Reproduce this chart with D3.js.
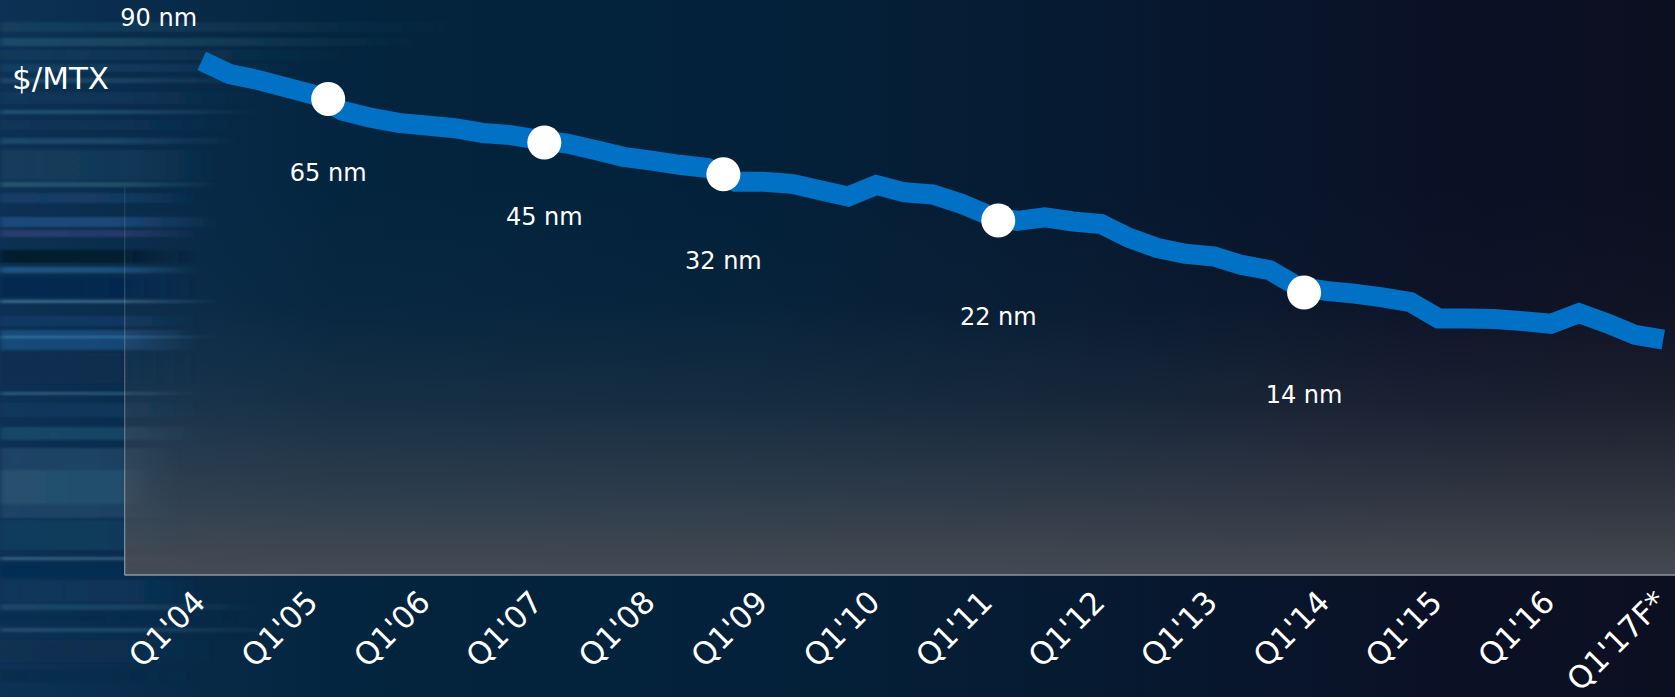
<!DOCTYPE html>
<html>
<head>
<meta charset="utf-8">
<script src="https://cdn.jsdelivr.net/npm/d3@7"></script>
<style>
  html, body { margin: 0; padding: 0; background: #061a2e; overflow: hidden; }
  svg { display: block; }
</style>
</head>
<body>
<svg id="chart" width="1675" height="697"></svg>
<script>
// Relative cost per million transistors, one value per quarter, Q1'04 .. Q1'17 (forecast)
const costPerMtx = [
  97.0, 94.5, 93.4, 92.0, 90.6, 87.6, 86.3, 85.3, 84.8, 84.3,
  83.4, 83.0, 82.1, 81.4, 80.2, 78.9, 78.2, 77.4, 76.8, 74.2,
  74.2, 73.8, 72.6, 71.4, 73.6, 72.2, 71.8, 70.1, 67.9, 66.8,
  67.5, 66.7, 66.2, 63.6, 61.7, 60.6, 60.1, 58.5, 57.5, 54.4,
  53.6, 53.1, 52.4, 51.5, 48.4, 48.4, 48.3, 47.9, 47.4, 49.4,
  47.5, 45.3, 44.4
];

// Year ticks (every fourth quarter)
const tickQuarters = [0, 4, 8, 12, 16, 20, 24, 28, 32, 36, 40, 44, 48, 52];
const tickLabels = ["Q1'04", "Q1'05", "Q1'06", "Q1'07", "Q1'08", "Q1'09", "Q1'10",
                    "Q1'11", "Q1'12", "Q1'13", "Q1'14", "Q1'15", "Q1'16", "Q1'17F*"];

// Process node introductions: name, quarter (from Q1'04) and cost level
const nodeNames   = ["90 nm", "65 nm", "45 nm", "32 nm", "22 nm", "14 nm"];
const nodeQuarter = [0, 4.5, 12.19, 18.56, 28.34, 39.22];
const nodeValue   = [97.0, 89.8, 81.6, 75.6, 66.9, 53.3];
const nodeHasDot  = [false, true, true, true, true, true];

const axisTitle = "$/MTX";

// ---- layout ----
const W = 1675, H = 697;
const plotLeft = 124.5, plotTop = 187, plotBottom = 575;
const labelBaseline = [25.5, 181, 225, 269, 325, 403];
const labelShift    = [-43, 0, 0, 0, 0, 0];
const blue = "#0071c5";
const font = "'DejaVu Sans', sans-serif";

const svg = d3.select("#chart");
const defs = svg.append("defs");

const x = d3.scaleLinear().domain([0, 52]).range([201.7, 1663.3]);
const y = d3.scaleLinear().domain([0, 100]).range([plotBottom, 45]);

// ---- background ----
const bg = defs.append("linearGradient").attr("id", "bg")
  .attr("x1", 0).attr("y1", 0).attr("x2", 1).attr("y2", 0);
[[0, "#0c3154"], [0.08, "#092c4b"], [0.2, "#04253f"], [0.45, "#03213a"], [0.65, "#061a31"], [0.85, "#0a1126"], [1, "#0c0f20"]]
  .forEach(([o, c]) => bg.append("stop").attr("offset", o).attr("stop-color", c));
svg.append("rect").attr("width", W).attr("height", H).attr("fill", "url(#bg)");

// motion streaks on the left edge: [y, height, colour, length, strength]
const streaks = [
  [22, 10, "#1f5068", 460, 0.45], [38, 8, "#2b6478", 420, 0.5], [50, 10, "#17425f", 360, 0.5],
  [64, 8, "#1d4c70", 300, 0.5], [78, 5, "#2d5c7a", 280, 0.5], [92, 12, "#133b5c", 260, 0.6],
  [110, 4, "#2f6a88", 260, 0.55], [120, 10, "#103658", 240, 0.6], [138, 6, "#25587a", 240, 0.6],
  [150, 30, "#18405e", 220, 0.7], [182, 5, "#2d6478", 220, 0.7], [193, 10, "#17426c", 200, 0.75],
  [217, 10, "#205088", 220, 0.8], [230, 7, "#2f3f76", 200, 0.8], [250, 13, "#021828", 200, 0.85],
  [267, 6, "#1f5c8e", 200, 0.8], [277, 20, "#062650", 200, 0.8],
  [300, 3, "#44789e", 220, 0.8], [316, 10, "#0f3c68", 200, 0.8], [330, 20, "#1b5184", 200, 0.8],
  [336, 2, "#3c7aaa", 220, 0.8], [353, 30, "#0a2c4e", 200, 0.8], [392, 3, "#34627f", 200, 0.8],
  [403, 14, "#0e3a5e", 200, 0.8], [427, 13, "#1d4d6c", 200, 0.8], [448, 70, "#20496a", 180, 0.8],
  [470, 34, "#2a5874", 150, 0.6], [520, 30, "#11405f", 180, 0.8], [557, 3, "#3d6c8a", 200, 0.8],
  [563, 14, "#062c52", 200, 0.8], [580, 22, "#0d385c", 200, 0.8], [604, 6, "#20506f", 260, 0.7],
  [614, 8, "#0a2c4c", 240, 0.6], [628, 4, "#2b5d7c", 300, 0.6], [640, 22, "#0d3150", 220, 0.6],
  [670, 12, "#0a2c48", 200, 0.5]
];
defs.append("filter").attr("id", "soft")
  .attr("x", "-10%").attr("y", "-10%").attr("width", "120%").attr("height", "120%")
  .append("feGaussianBlur").attr("stdDeviation", "3 1.2");
streaks.forEach((d, i) => {
  const g = defs.append("linearGradient").attr("id", "st" + i)
    .attr("gradientUnits", "userSpaceOnUse")
    .attr("x1", 0).attr("y1", 0).attr("x2", d[3]).attr("y2", 0);
  g.append("stop").attr("offset", 0).attr("stop-color", d[2]).attr("stop-opacity", d[4]);
  g.append("stop").attr("offset", Math.min(0.95, 120 / d[3])).attr("stop-color", d[2]).attr("stop-opacity", d[4] * 0.9);
  g.append("stop").attr("offset", 1).attr("stop-color", d[2]).attr("stop-opacity", 0);
});
svg.append("g").attr("filter", "url(#soft)")
  .selectAll("rect").data(streaks).join("rect")
  .attr("x", 0).attr("y", d => d[0]).attr("height", d => d[1])
  .attr("width", d => d[3]).attr("fill", (d, i) => `url(#st${i})`);

// ---- plot area ----
const plotFill = defs.append("linearGradient").attr("id", "plotFill")
  .attr("x1", 0).attr("y1", 0).attr("x2", 0).attr("y2", 1);
[[0, 0], [0.3, 0.05], [0.55, 0.25], [0.8, 0.6], [1, 0.92]]
  .forEach(([o, a]) => plotFill.append("stop").attr("offset", o)
    .attr("stop-color", "#4a4e55").attr("stop-opacity", a));
svg.append("rect")
  .attr("x", plotLeft).attr("y", plotTop)
  .attr("width", W - plotLeft).attr("height", plotBottom - plotTop)
  .attr("fill", "url(#plotFill)");

const edgeFade = defs.append("linearGradient").attr("id", "edgeFade")
  .attr("x1", 0).attr("y1", 0).attr("x2", 0).attr("y2", 1);
edgeFade.append("stop").attr("offset", 0).attr("stop-color", "#8fa4b8").attr("stop-opacity", 0.12);
edgeFade.append("stop").attr("offset", 1).attr("stop-color", "#a9b3bd").attr("stop-opacity", 0.7);
svg.append("rect")
  .attr("x", plotLeft - 0.5).attr("y", plotTop)
  .attr("width", 1.3).attr("height", plotBottom - plotTop)
  .attr("fill", "url(#edgeFade)");

// ---- x axis ----
const xAxis = d3.axisBottom(x)
  .tickValues(tickQuarters)
  .tickFormat((d, i) => tickLabels[i])
  .tickSize(0);
const gx = svg.append("g").attr("transform", `translate(0,${plotBottom})`).call(xAxis);
gx.select(".domain")
  .attr("d", `M${plotLeft},0H${W}`)
  .attr("stroke", "#8d949c").attr("stroke-width", 1.6);
gx.selectAll(".tick text")
  .attr("fill", "#ffffff")
  .attr("font-family", font)
  .attr("font-size", 31)
  .attr("text-anchor", "end")
  .attr("dy", null)
  .attr("y", null)
  .attr("transform", "translate(5,29) rotate(-45)");

// ---- cost line ----
const line = d3.line()
  .x((d, i) => x(i))
  .y(d => y(d));
svg.append("path")
  .datum(costPerMtx)
  .attr("d", line)
  .attr("fill", "none")
  .attr("stroke", blue)
  .attr("stroke-width", 20)
  .attr("stroke-linejoin", "miter")
  .attr("stroke-linecap", "butt");

// ---- node markers and labels ----
const nodes = nodeNames.map((name, i) => ({
  name, q: nodeQuarter[i], v: nodeValue[i], dot: nodeHasDot[i],
  ly: labelBaseline[i], dx: labelShift[i]
}));

svg.append("g").selectAll("circle")
  .data(nodes.filter(d => d.dot)).join("circle")
  .attr("cx", d => x(d.q)).attr("cy", d => y(d.v))
  .attr("r", 17).attr("fill", "#ffffff");

svg.append("g").selectAll("text")
  .data(nodes).join("text")
  .attr("x", d => x(d.q) + d.dx).attr("y", d => d.ly)
  .attr("text-anchor", "middle")
  .attr("fill", "#ffffff")
  .attr("font-family", font)
  .attr("font-size", 24)
  .text(d => d.name);

// ---- unit label ----
svg.append("text")
  .attr("x", 12).attr("y", 88.5)
  .attr("fill", "#ffffff")
  .attr("font-family", font)
  .attr("font-size", 31)
  .text(axisTitle);
</script>
</body>
</html>
